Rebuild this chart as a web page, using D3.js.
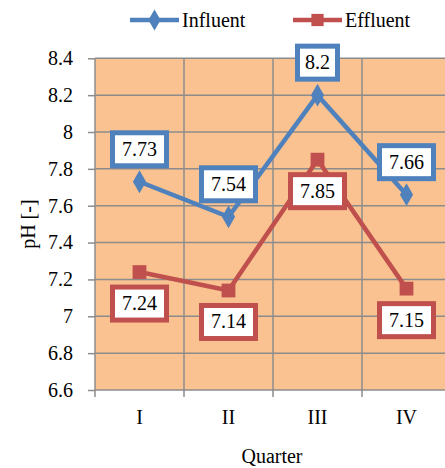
<!DOCTYPE html>
<html>
<head>
<meta charset="utf-8">
<script src="https://cdn.jsdelivr.net/npm/d3@7"></script>
<style>
  body { margin: 0; background: #fff; }
  text { font-family: "Liberation Serif", "Times New Roman", serif; fill: #000; }
</style>
</head>
<body>
<div class="chart"></div>
<script>
// chart data
var quarters = ['I', 'II', 'III', 'IV'];
var influent = [7.73, 7.54, 8.2, 7.66];
var effluent = [7.24, 7.14, 7.85, 7.15];
var yTicks = [6.6, 6.8, 7, 7.2, 7.4, 7.6, 7.8, 8, 8.2, 8.4];

var W = 445, H = 468;
var plot = { left: 95, right: 451, top: 58.3, bottom: 390 };

var svg = d3.select('.chart').append('svg').attr('width', W).attr('height', H);

var x = d3.scaleBand().domain(quarters).range([plot.left, plot.right]).padding(0);
var y = d3.scaleLinear().domain([6.6, 8.4]).range([plot.bottom, plot.top]);

var gridColor = '#8c8c8c';

// plot background
svg.append('rect')
	.attr('x', plot.left).attr('y', plot.top)
	.attr('width', plot.right - plot.left).attr('height', plot.bottom - plot.top)
	.attr('fill', '#f9c290');

// horizontal grid + y ticks
var yAxis = svg.append('g').attr('transform', 'translate(' + plot.left + ',0)')
	.call(d3.axisLeft(y).tickValues(yTicks).tickSize(7).tickPadding(15)
		.tickFormat(function(d) { return d3.format('')(+d.toFixed(1)); }));
yAxis.select('.domain').remove();
yAxis.selectAll('line').attr('stroke', gridColor).attr('stroke-width', 1.5);
yAxis.selectAll('text').style('font-size', '20px').style('font-family', '"Liberation Serif", serif');

svg.append('g').selectAll('line').data(yTicks).enter().append('line')
	.attr('x1', plot.left).attr('x2', plot.right)
	.attr('y1', function(d) { return y(d); }).attr('y2', function(d) { return y(d); })
	.attr('stroke', gridColor).attr('stroke-width', 1.5);

// vertical grid at category boundaries
var bounds = quarters.map(function(q) { return x(q); }).concat([x(quarters[3]) + x.bandwidth()]);
svg.append('g').selectAll('line').data(bounds).enter().append('line')
	.attr('x1', function(d) { return d; }).attr('x2', function(d) { return d; })
	.attr('y1', plot.top).attr('y2', plot.bottom + 7)
	.attr('stroke', gridColor).attr('stroke-width', 1.5);

// x tick labels
svg.append('g').selectAll('text').data(quarters).enter().append('text')
	.attr('x', function(d) { return x(d) + x.bandwidth() / 2; })
	.attr('y', 424)
	.attr('text-anchor', 'middle')
	.style('font-size', '20px')
	.text(function(d) { return d; });

// axis titles
svg.append('text').attr('x', 272).attr('y', 463).attr('text-anchor', 'middle')
	.style('font-size', '20px').text('Quarter');
svg.append('text').attr('transform', 'translate(35,' + ((plot.top + plot.bottom) / 2) + ') rotate(-90)')
	.attr('text-anchor', 'middle').style('font-size', '20px').text('pH [-]');

var series = [
	{ name: 'Influent', values: influent, color: '#4f81bd', symbol: d3.symbolDiamond, labelDy: -33 },
	{ name: 'Effluent', values: effluent, color: '#c0504d', symbol: d3.symbolSquare, labelDy: 31 }
];

var line = d3.line()
	.x(function(d, i) { return x(quarters[i]) + x.bandwidth() / 2; })
	.y(function(d) { return y(d); });

series.forEach(function(s) {
	svg.append('path').datum(s.values)
		.attr('d', line).attr('fill', 'none')
		.attr('stroke', s.color).attr('stroke-width', 4.5);
	svg.append('g').selectAll('path').data(s.values).enter().append('path')
		.attr('d', d3.symbol().type(s.symbol).size(s.symbol === d3.symbolSquare ? 190 : 150))
		.attr('transform', function(d, i) {
			return 'translate(' + (x(quarters[i]) + x.bandwidth() / 2) + ',' + y(d) + ')';
		})
		.attr('fill', s.color);
});

// data labels
series.forEach(function(s) {
	var g = svg.append('g').selectAll('g').data(s.values).enter().append('g')
		.attr('transform', function(d, i) {
			return 'translate(' + (x(quarters[i]) + x.bandwidth() / 2) + ',' + (y(d) + s.labelDy) + ')';
		});
	g.append('rect')
		.attr('x', function(d) { return String(d).length > 3 ? -27 : -20; })
		.attr('width', function(d) { return String(d).length > 3 ? 54 : 40; })
		.attr('y', -16).attr('height', 33)
		.attr('fill', '#fff').attr('stroke', s.color).attr('stroke-width', 5);
	g.append('text').attr('text-anchor', 'middle').attr('y', 7)
		.style('font-size', '20px').text(function(d) { return d; });
});

// legend
var legend = [
	{ name: 'Influent', color: '#4f81bd', symbol: d3.symbolDiamond, x: 130 },
	{ name: 'Effluent', color: '#c0504d', symbol: d3.symbolSquare, x: 293 }
];
legend.forEach(function(l) {
	svg.append('line').attr('x1', l.x).attr('x2', l.x + 49).attr('y1', 20).attr('y2', 20)
		.attr('stroke', l.color).attr('stroke-width', 4.5);
	svg.append('path').attr('d', d3.symbol().type(l.symbol).size(l.symbol === d3.symbolSquare ? 150 : 130))
		.attr('transform', 'translate(' + (l.x + 24.5) + ',20)').attr('fill', l.color);
	svg.append('text').attr('x', l.x + 52).attr('y', 27).style('font-size', '20px').text(l.name);
});
</script>
</body>
</html>
